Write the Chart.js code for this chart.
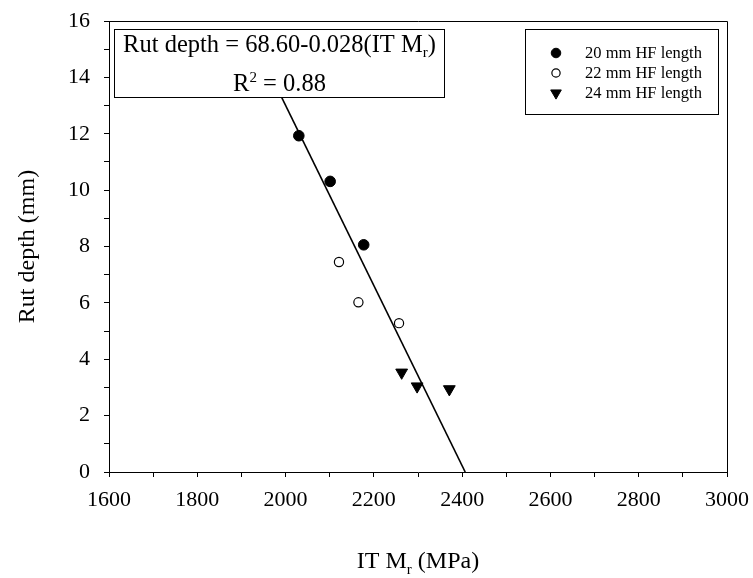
<!DOCTYPE html>
<html>
<head>
<meta charset="utf-8">
<script src="https://cdn.jsdelivr.net/npm/chart.js@4.4.1/dist/chart.umd.min.js"></script>
<style>
  body { margin: 0; background: #fff; }
  #wrap { width: 753px; height: 578px; }
</style>
</head>
<body>
<div id="wrap"><canvas id="rutChart"></canvas></div>
<script>
const hf20X = [2030, 2101, 2177];
const hf20Y = [11.93, 10.31, 8.06];
const hf22X = [2121, 2165, 2257];
const hf22Y = [7.45, 6.02, 5.28];
const hf24X = [2263, 2298, 2371];
const hf24Y = [3.53, 3.04, 2.94];

// regression line ends
const fitX = [1919, 2407];
const fitY = [15.6, 0];

const seriesLabels = ['20 mm HF length', '22 mm HF length', '24 mm HF length'];
const xTickLabels = [1600, 1800, 2000, 2200, 2400, 2600, 2800, 3000];
const yTickLabels = [0, 2, 4, 6, 8, 10, 12, 14, 16];

const SERIF = "'Liberation Serif', 'Times New Roman', serif";

const pts = (xs, ys) => xs.map((x, i) => ({ x: x, y: ys[i] }));

// draws a run of [text, font, dy] pieces one after another
function drawRuns(ctx, runs, x, y) {
  let cx = x;
  runs.forEach(([txt, font, dy]) => {
    ctx.font = font;
    ctx.fillText(txt, cx, y + dy);
    cx += ctx.measureText(txt).width;
  });
}
function runsWidth(ctx, runs) {
  let w = 0;
  runs.forEach(([txt, font]) => { ctx.font = font; w += ctx.measureText(txt).width; });
  return w;
}

// plot frame (top and right sides)
const framePlugin = {
  id: 'frame',
  afterDraw(chart) {
    const { ctx, chartArea: a } = chart;
    ctx.save();
    ctx.strokeStyle = '#000';
    ctx.lineWidth = 1;
    ctx.beginPath();
    ctx.moveTo(a.left, a.top + 0.5);
    ctx.lineTo(a.right + 0.5, a.top + 0.5);
    ctx.lineTo(a.right + 0.5, a.bottom);
    ctx.stroke();
    ctx.restore();
  }
};

// equation box, legend box and x title with subscript
const notesPlugin = {
  id: 'notes',
  afterDatasetsDraw(chart) {
    const { ctx, chartArea: a } = chart;
    ctx.save();

    // equation box
    const bx = 114.5, by = 29.5, bw = 330, bh = 68;
    ctx.fillStyle = '#fff';
    ctx.fillRect(bx, by, bw, bh);
    ctx.strokeStyle = '#000';
    ctx.lineWidth = 1;
    ctx.strokeRect(bx, by, bw, bh);

    ctx.fillStyle = '#000';
    ctx.textBaseline = 'alphabetic';
    ctx.textAlign = 'left';
    const big = '24.5px ' + SERIF, small = '15px ' + SERIF;
    const eq1 = [['Rut depth = 68.60-0.028(IT M', big, 0], ['r', small, 5], [')', big, 0]];
    const eq2 = [['R', big, 0], ['2', small, -9], [' = 0.88', big, 0]];
    const mid = bx + bw / 2;
    drawRuns(ctx, eq1, mid - runsWidth(ctx, eq1) / 2, 52);
    drawRuns(ctx, eq2, mid - runsWidth(ctx, eq2) / 2, 91);

    // legend box
    const lx = 525.5, ly = 29.5, lw = 193, lh = 85;
    ctx.fillStyle = '#fff';
    ctx.fillRect(lx, ly, lw, lh);
    ctx.strokeRect(lx, ly, lw, lh);
    ctx.textBaseline = 'middle';
    ctx.font = '16.5px ' + SERIF;
    chart.data.datasets.slice(0, 3).forEach((ds, i) => {
      const cy = 53 + i * 20, cx = 556;
      const r = ds.pointRadius * 0.9;
      ctx.fillStyle = ds.pointBackgroundColor;
      ctx.strokeStyle = ds.pointBorderColor;
      ctx.lineWidth = ds.pointBorderWidth;
      ctx.beginPath();
      if (ds.pointStyle === 'triangle') {
        ctx.moveTo(cx - r * 0.866, cy - r * 0.5);
        ctx.lineTo(cx + r * 0.866, cy - r * 0.5);
        ctx.lineTo(cx, cy + r);
        ctx.closePath();
      } else {
        ctx.arc(cx, cy, r, 0, Math.PI * 2);
      }
      ctx.fill();
      ctx.stroke();
      ctx.fillStyle = '#000';
      ctx.fillText(ds.label, 585, cy + 1);
    });

    // x axis title
    ctx.textBaseline = 'alphabetic';
    const xt = [['IT M', '24px ' + SERIF, 0], ['r', '15px ' + SERIF, 6], [' (MPa)', '24px ' + SERIF, 0]];
    drawRuns(ctx, xt, (a.left + a.right) / 2 - runsWidth(ctx, xt) / 2, 568);

    ctx.restore();
  }
};

const rutData = {
  datasets: [
    {
      label: seriesLabels[0],
      data: pts(hf20X, hf20Y),
      pointStyle: 'circle',
      pointRadius: 5.3,
      pointBackgroundColor: '#000',
      pointBorderColor: '#000',
      pointBorderWidth: 1,
      showLine: false
    },
    {
      label: seriesLabels[1],
      data: pts(hf22X, hf22Y),
      pointStyle: 'circle',
      pointRadius: 4.6,
      pointBackgroundColor: '#fff',
      pointBorderColor: '#000',
      pointBorderWidth: 1.2,
      showLine: false
    },
    {
      label: seriesLabels[2],
      data: pts(hf24X, hf24Y),
      pointStyle: 'triangle',
      rotation: 180,
      pointRadius: 6.8,
      pointBackgroundColor: '#000',
      pointBorderColor: '#000',
      pointBorderWidth: 1,
      showLine: false
    },
    {
      label: 'fit',
      data: pts(fitX, fitY),
      showLine: true,
      borderColor: '#000',
      borderWidth: 1.6,
      pointRadius: 0,
      fill: false
    }
  ]
};

const rutConfig = {
  type: 'scatter',
  data: rutData,
  options: {
    responsive: true,
    maintainAspectRatio: false,
    animation: false,
    layout: { padding: { top: 21, right: 26, left: 0, bottom: 0 } },
    plugins: {
      legend: { display: false },
      tooltip: { enabled: false }
    },
    scales: {
      x: {
        type: 'linear',
        min: 1600,
        max: 3000,
        afterFit: s => { s.height = 106; s.paddingLeft = 0; s.paddingRight = 0; },
        ticks: {
          stepSize: 100,
          autoSkip: false,
          maxRotation: 0,
          padding: 10,
          color: '#000',
          font: { family: SERIF, size: 22 },
          callback: v => xTickLabels.includes(v) ? String(v) : ''
        },
        grid: {
          drawOnChartArea: false,
          color: '#000',
          tickLength: 5
        },
        border: { color: '#000', width: 1 }
      },
      y: {
        min: 0,
        max: 16,
        afterFit: s => { s.width = 109; s.paddingTop = 0; s.paddingBottom = 0; },
        ticks: {
          stepSize: 1,
          autoSkip: false,
          padding: 14,
          color: '#000',
          font: { family: SERIF, size: 22 },
          callback: v => yTickLabels.includes(v) ? String(v) : ''
        },
        grid: {
          drawOnChartArea: false,
          color: '#000',
          tickLength: 5
        },
        border: { color: '#000', width: 1 },
        title: {
          display: true,
          text: 'Rut depth (mm)',
          color: '#000',
          font: { family: SERIF, size: 24 },
          padding: { top: 13, bottom: 0 }
        }
      }
    }
  },
  plugins: [framePlugin, notesPlugin]
};

new Chart(document.getElementById('rutChart'), rutConfig);
</script>
</body>
</html>
